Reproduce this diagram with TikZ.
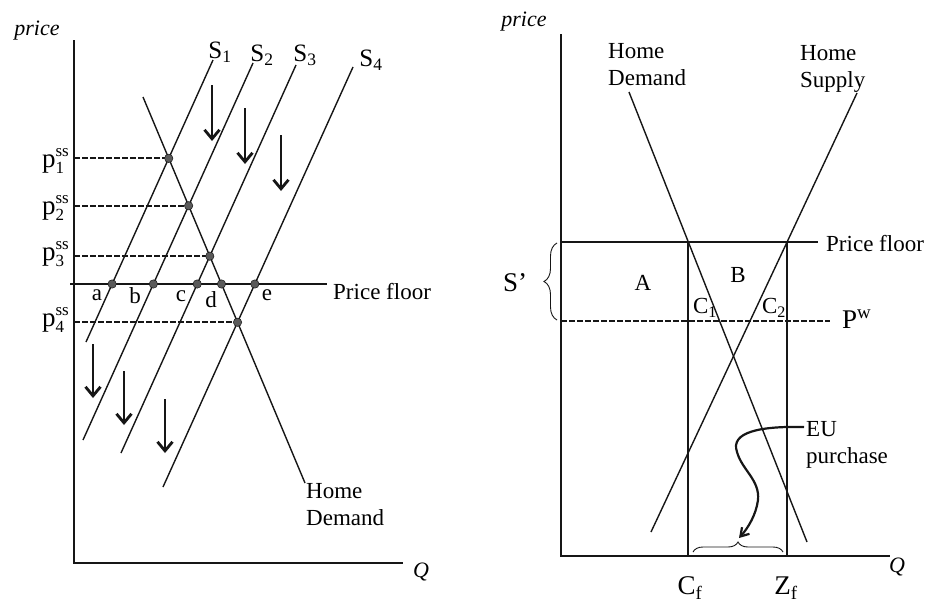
\documentclass[tikz,border=0pt]{standalone}
\usepackage{fontspec}
\setmainfont{Liberation Serif}
\usetikzlibrary{arrows.meta, decorations.pathreplacing}
\definecolor{ink}{HTML}{161616}
\definecolor{dotfill}{HTML}{5A5A5A}
\newcommand{\pss}[1]{p\rlap{\raisebox{-6pt}{\fontsize{17}{17}\selectfont #1}}\raisebox{11pt}{\fontsize{17}{17}\selectfont ss}}

\begin{document}
\begin{tikzpicture}[
  x=1pt, y=-1pt,
  font=\fontsize{23}{27}\selectfont,
  every node/.style={inner sep=0pt},
  curve/.style={draw=ink, line width=1.4pt},
  axis/.style={draw=ink, line width=1.7pt},
  guide/.style={draw=ink, line width=2.2pt, dash pattern=on 6pt off 2pt},
  fall/.style={draw=ink, line width=2.8pt, -{Straight Barb[length=9pt, width=15pt]}},
  brc/.style={draw=ink, line width=0.9pt, decorate, decoration={brace, amplitude=#1}},
  ital/.style={font=\fontsize{22}{26}\selectfont\itshape},
  big/.style={font=\fontsize{27}{30}\selectfont},
  lines/.style={align=left, anchor=north west}
]
\useasboundingbox (0,0) rectangle (929,605);

% left panel
\draw[axis] (74,40) coordinate (ly) -- (74,563) coordinate (lo) -- (403,563) coordinate (lx);
\node[ital, anchor=base] (lprice) at (37,35) {price};
\node[ital] (lq) at (421,572) {Q};

\coordinate (dt) at (143,97);
\coordinate (db) at (305,483);
\coordinate (s1t) at (213,60); \coordinate (s1b) at (86,342);
\coordinate (s2t) at (253,63); \coordinate (s2b) at (83,440);
\coordinate (s3t) at (296,65); \coordinate (s3b) at (121,453);
\coordinate (s4t) at (353,67); \coordinate (s4b) at (163,487);
\coordinate (fl) at (70,284); \coordinate (fr) at (327,284);

\draw[curve] (dt) -- (db);
\foreach \i in {1,...,4} \draw[curve] (s\i t) -- (s\i b);
\draw[axis] (fl) -- (fr);

\foreach \i in {1,...,4} \coordinate (p\i) at (intersection of dt--db and s\i t--s\i b);
\coordinate (a) at (intersection of fl--fr and s1t--s1b);
\coordinate (b) at (intersection of fl--fr and s2t--s2b);
\coordinate (c) at (intersection of fl--fr and s3t--s3b);
\coordinate (d) at (intersection of fl--fr and dt--db);
\coordinate (e) at (intersection of fl--fr and s4t--s4b);

\foreach \i in {1,...,4} \draw[guide] (ly |- p\i) -- (p\i);
\foreach \q in {p1,p2,p3,p4,a,b,c,d,e} \fill[dotfill, draw=ink, line width=0.5pt] (\q) circle [radius=4.2];

\node[big, anchor=base east] (lp1) at (69,167) {\pss{1}};
\node[big, anchor=base east] (lp2) at (69,214) {\pss{2}};
\node[big, anchor=base east] (lp3) at (69,260) {\pss{3}};
\node[big, anchor=base east] (lp4) at (69,326) {\pss{4}};

\node[font=\fontsize{25}{28}\selectfont] (ls1) at (220,52) {$\mathrm{S}_{\mathrm{1}}$};
\node[font=\fontsize{25}{28}\selectfont] (ls2) at (262,55) {$\mathrm{S}_{\mathrm{2}}$};
\node[font=\fontsize{25}{28}\selectfont] (ls3) at (305,55) {$\mathrm{S}_{\mathrm{3}}$};
\node[font=\fontsize{25}{28}\selectfont] (ls4) at (371,60) {$\mathrm{S}_{\mathrm{4}}$};

\node[anchor=base] (la) at (97,300) {a};
\node[anchor=base] (lb) at (135,303) {b};
\node[anchor=base] (lc) at (181,301) {c};
\node[anchor=base] (ld) at (211,307) {d};
\node[anchor=base] (le) at (267,300) {e};

\node[anchor=base west] (lfloor) at (333,299) {Price floor};
\node[lines] (ldem) at (306,483) {Home\\Demand};

\draw[fall] (212,85) -- (212,141);
\draw[fall] (245,108) -- (245,164);
\draw[fall] (281,135) -- (281,191);
\draw[fall] (93,344) -- (93,398);
\draw[fall] (124,371) -- (124,425);
\draw[fall] (165,399) -- (165,453);

% right panel
\draw[axis] (561,34) coordinate (ry) -- (561,556) coordinate (ro) -- (890,556) coordinate (rx);
\node[ital, anchor=base] (rprice) at (524,26) {price};
\node[ital] (rq) at (897,567) {Q};

\coordinate (rdt) at (629,92); \coordinate (rdb) at (807,542);
\coordinate (rst) at (857,93); \coordinate (rsb) at (651,532);
\coordinate (rfl) at (561,242); \coordinate (rfr) at (818,242);
\coordinate (cf) at (intersection of rfl--rfr and rdt--rdb);
\coordinate (zf) at (intersection of rfl--rfr and rst--rsb);

\draw[curve] (rdt) -- (rdb);
\draw[curve] (rst) -- (rsb);
\draw[axis] (rfl) -- (rfr);
\draw[axis] (cf) -- (cf |- ro);
\draw[axis] (zf) -- (zf |- ro);

\coordinate (pwl) at (561,321); \coordinate (pwr) at (830,321);
\draw[guide] (pwl) -- (pwr);
\node[big, anchor=base west] (pw) at (842,328) {$\mathrm{P}^{\mathrm{w}}$};
\node[anchor=base west] (rfloor) at (826,251) {Price floor};

\draw[brc=13pt] (557,320) -- (557,243);
\node[big] (sprime) at (515,283) {S’};
\node (ra) at (643,283) {A};
\node (rb) at (738,275) {B};
\node (rc1) at (705,308) {$\mathrm{C}_{\mathrm{1}}$};
\node (rc2) at (774,308) {$\mathrm{C}_{\mathrm{2}}$};

\draw[brc=10pt] (693,552) -- (783,552);
\node[big] (lcf) at (690,588) {$\mathrm{C}_{\mathrm{f}}$};
\node[big] (lzf) at (786,588) {$\mathrm{Z}_{\mathrm{f}}$};

\node[lines] (rdem) at (608,43) {Home\\Demand};
\node[lines] (rsup) at (800,45) {Home\\Supply};
\node[lines] (eu) at (806,421) {EU\\purchase};
\coordinate (eutip) at (739,538);
\draw[ink, line width=2.2pt, -{Straight Barb[length=8pt, width=10pt]}]
  ([xshift=-2pt, yshift=-6pt]eu.north west) .. controls (760,426) and (730,432) .. (737,452)
  .. controls (742,470) and (760,480) .. (758,500)
  .. controls (756,515) and (748,528) .. (eutip);
\end{tikzpicture}
\end{document}
